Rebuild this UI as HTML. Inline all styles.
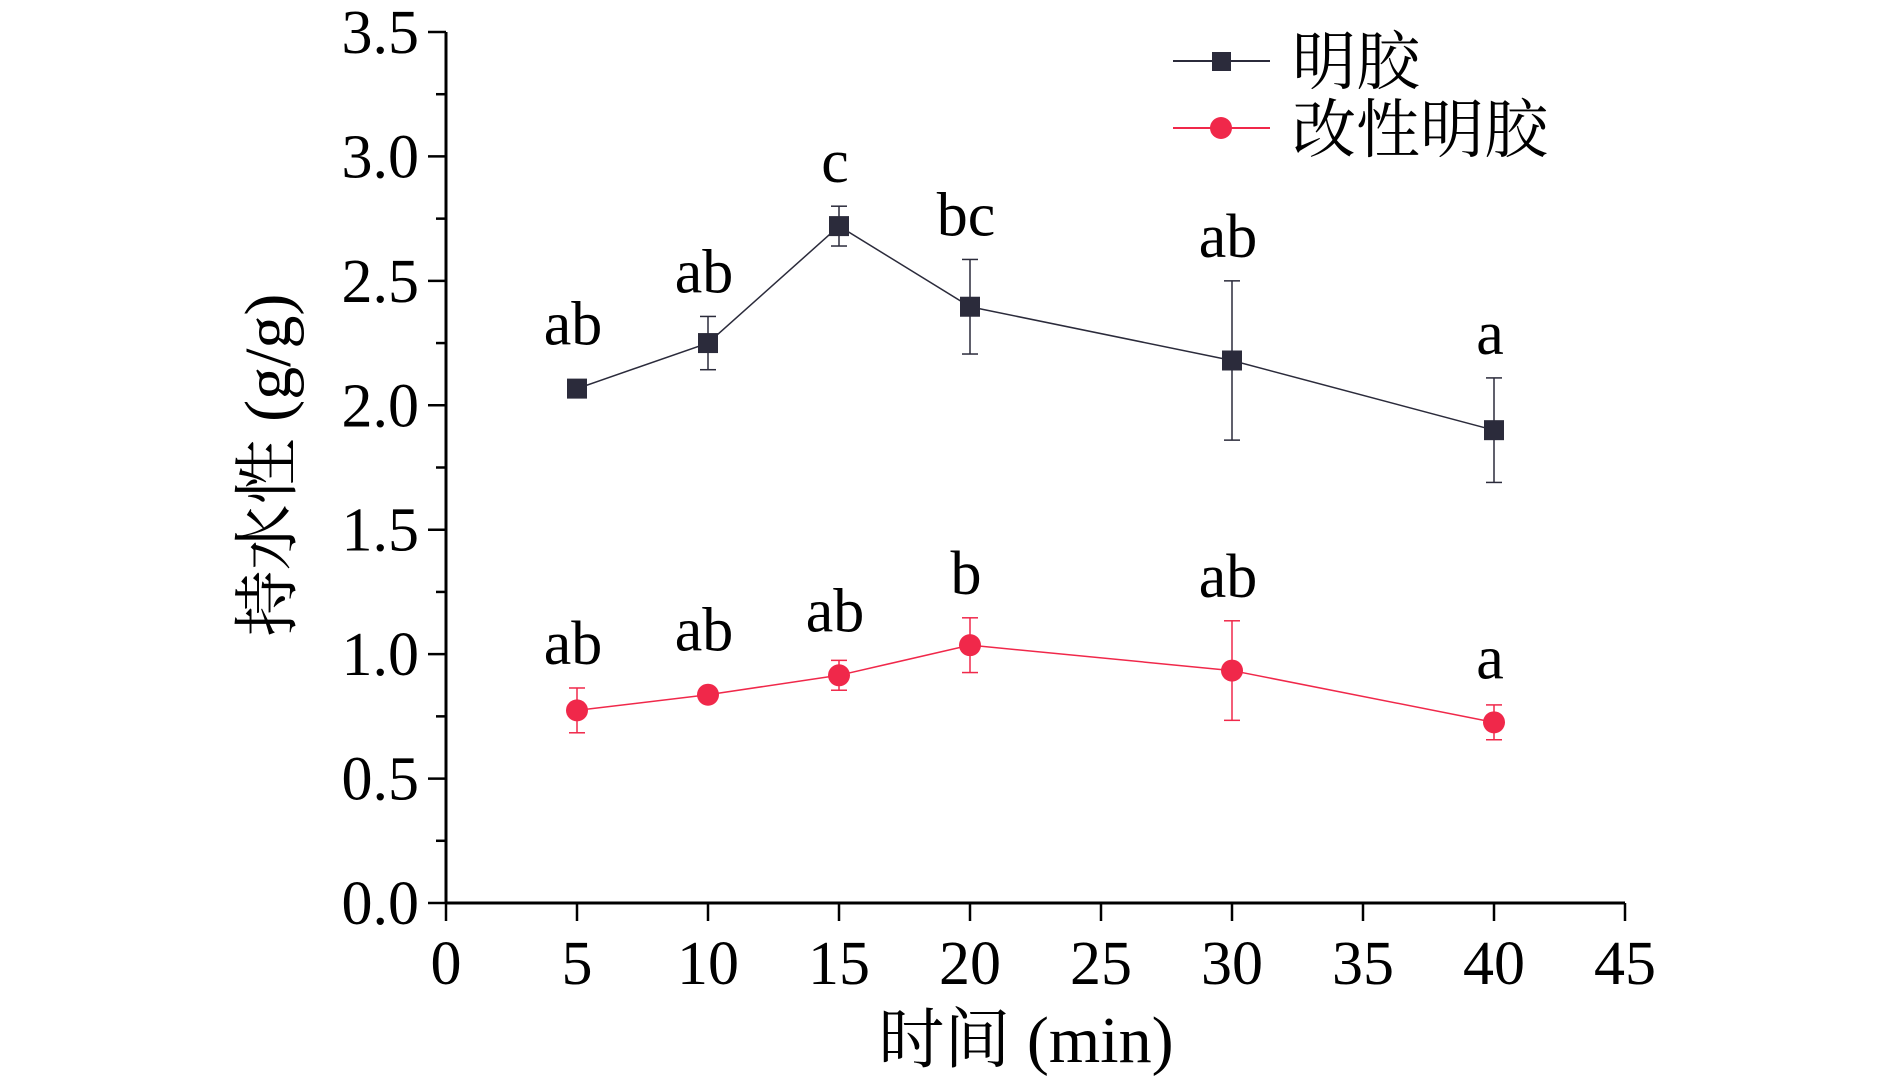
<!DOCTYPE html>
<html><head><meta charset="utf-8"><style>
html,body{margin:0;padding:0;background:#fff;}
svg text{font-family:"Liberation Serif","Noto Serif CJK SC",serif;fill:#000;}
</style></head><body>
<svg id="chart" width="1890" height="1082" xmlns="http://www.w3.org/2000/svg">
<g id="axes"></g>
<g id="series"></g>
<g id="legend">
  <line x1="1173" y1="61" x2="1270" y2="61" stroke="#2b2b3b" stroke-width="2"/>
  <rect x="1212" y="52" width="19" height="19" fill="#2b2b3b"/>
  <text x="1292" y="84" font-size="64">明胶</text>
  <line x1="1173" y1="128" x2="1270" y2="128" stroke="#f0284a" stroke-width="2"/>
  <circle cx="1221" cy="128" r="11" fill="#f0284a"/>
  <text x="1292" y="152" font-size="64">改性明胶</text>
</g>
<text transform="translate(290,465) rotate(-90)" text-anchor="middle" font-size="66">持水性 (g/g)</text>
<text x="1026" y="1062" text-anchor="middle" font-size="66">时间 (min)</text>
</svg>
<script>
const xTicks=[0,5,10,15,20,25,30,35,40,45];
const yTicks=[0,0.5,1,1.5,2,2.5,3,3.5];
const times=[5,10,15,20,30,40];
const gelatin=[2.067,2.25,2.72,2.396,2.18,1.90];
const gelatinErr=[0.02,0.107,0.08,0.19,0.32,0.21];
const gelatinLetters=["ab","ab","c","bc","ab","a"];
const modified=[0.774,0.837,0.915,1.036,0.934,0.726];
const modifiedErr=[0.09,0.02,0.06,0.11,0.2,0.07];
const modifiedLetters=["ab","ab","ab","b","ab","a"];

const X0=446,X1=1625,Y0=903,Y1=32;
const xs=v=>X0+(v-0)/45*(X1-X0);
const ys=v=>Y0-(v/3.5)*(Y0-Y1);
const NS="http://www.w3.org/2000/svg";
function mk(tag,attrs,parent){const e=document.createElementNS(NS,tag);for(const k in attrs)e.setAttribute(k,attrs[k]);parent.appendChild(e);return e;}
const axes=document.getElementById('axes');
const series=document.getElementById('series');
let e;
e=mk('line',{x1:X0,y1:Y0,x2:X1,y2:Y0,stroke:'#000','stroke-width':3},axes);


e=mk('line',{x1:X0,y1:Y0+1,x2:X0,y2:Y1,stroke:'#000','stroke-width':3},axes);


xTicks.forEach(t=>{
  const x=xs(t);
  mk('line',{x1:x,y1:Y0,x2:x,y2:Y0+18,stroke:'#000','stroke-width':2.5},axes);
  e=mk('text',{x:x,y:Y0+81,'text-anchor':'middle','font-size':62},axes);
  e.textContent=String(t);
  
  
});
yTicks.forEach((t,i)=>{
  const y=ys(t);
  mk('line',{x1:X0,y1:y,x2:X0-18,y2:y,stroke:'#000','stroke-width':2.5},axes);
  e=mk('text',{x:419,y:y+21,'text-anchor':'end','font-size':62},axes);
  e.textContent=t.toFixed(1);
  
  
  if(i<yTicks.length-1){const ym=ys(t+0.25);mk('line',{x1:X0,y1:ym,x2:X0-10,y2:ym,stroke:'#000','stroke-width':2.5},axes);}
});
function draw(vals,errs,letters,color,square,name){
  const g=mk('g',{},series);
  
  
  const pts=times.map((t,i)=>xs(t)+','+ys(vals[i])).join(' ');
  mk('polyline',{points:pts,fill:'none',stroke:color,'stroke-width':1.5},g);
  times.forEach((t,i)=>{
    const x=xs(t),yt=ys(vals[i]+errs[i]),yb=ys(vals[i]-errs[i]);
    mk('line',{x1:x,y1:yt,x2:x,y2:yb,stroke:color,'stroke-width':1.5},g);
    mk('line',{x1:x-8,y1:yt,x2:x+8,y2:yt,stroke:color,'stroke-width':1.5},g);
    mk('line',{x1:x-8,y1:yb,x2:x+8,y2:yb,stroke:color,'stroke-width':1.5},g);
    let m;
    if(square) m=mk('rect',{x:x-10,y:ys(vals[i])-10,width:20,height:20,fill:color},g);
    else m=mk('circle',{cx:x,cy:ys(vals[i]),r:11,fill:color},g);
    
    
    const lt=mk('text',{x:x-4,y:Math.min(yt,ys(vals[i])-20)-24,'text-anchor':'middle','font-size':62},g);
    lt.textContent=letters[i];
    
    
  });
}
draw(gelatin,gelatinErr,gelatinLetters,'#2b2b3b',true,'gelatin');
draw(modified,modifiedErr,modifiedLetters,'#f0284a',false,'modified-gelatin');
</script>
</body></html>
